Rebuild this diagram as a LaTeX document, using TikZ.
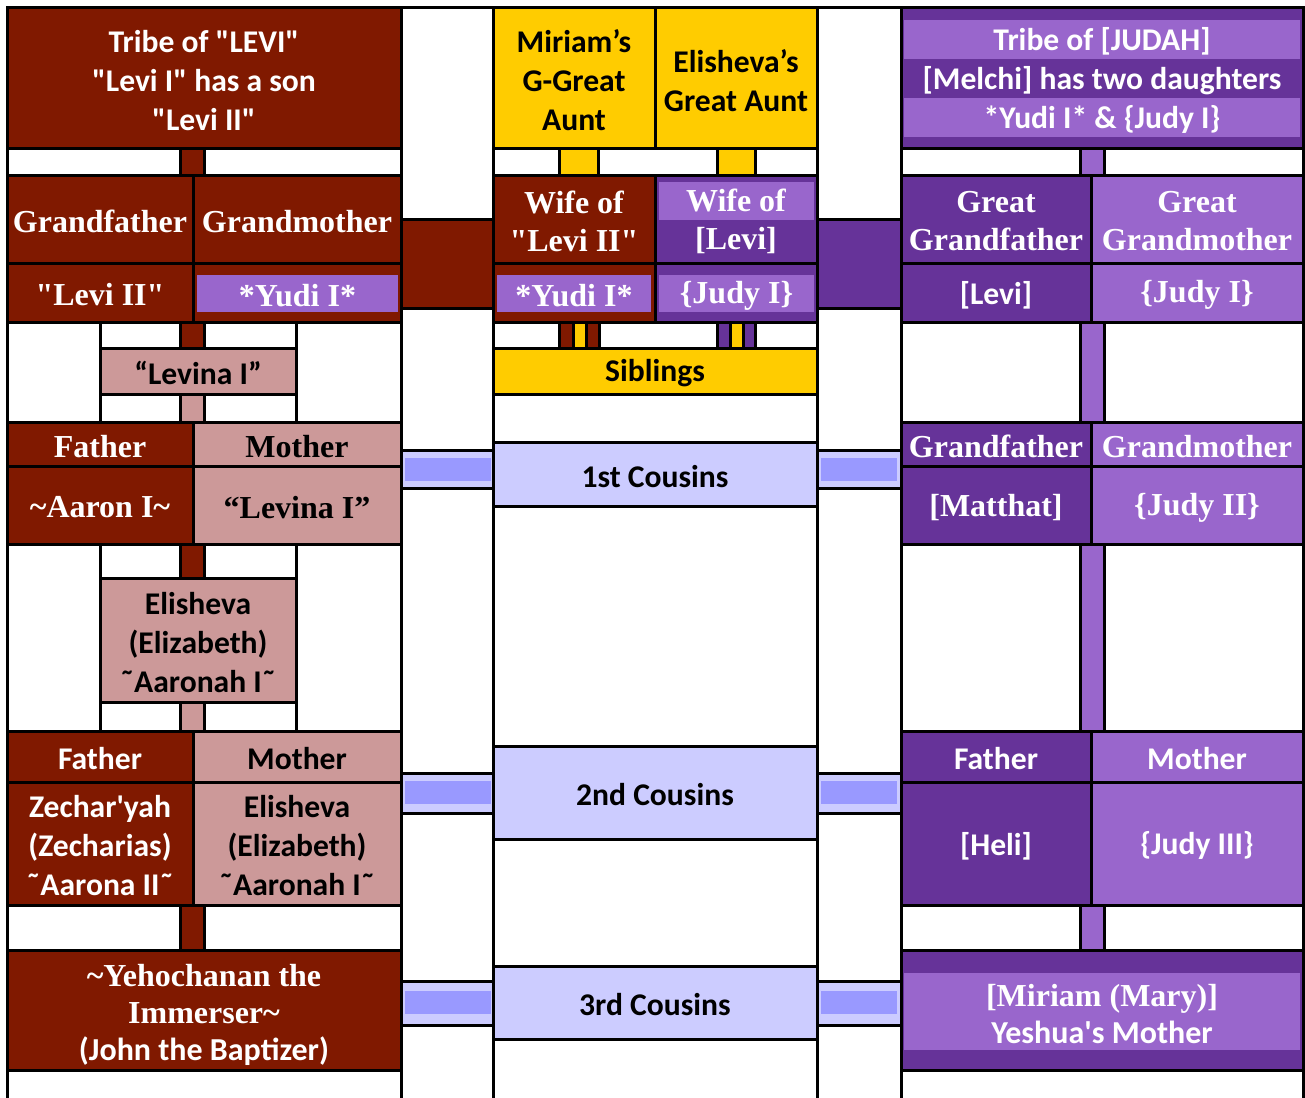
\documentclass[tikz,border=0pt]{standalone}
\usepackage{fontspec}
\setmainfont{Liberation Serif}[Ligatures=TeXOff]
\newfontfamily\calib{Carlito}[Ligatures=TeXOff]
\usetikzlibrary{fit}
\definecolor{dred}{RGB}{128,25,0}
\definecolor{pinkc}{RGB}{204,153,153}
\definecolor{yel}{RGB}{255,204,0}
\definecolor{dpur}{RGB}{102,51,153}
\definecolor{lpur}{RGB}{153,102,204}
\definecolor{lav}{RGB}{204,204,255}
\definecolor{lavd}{RGB}{153,153,255}
\newcommand\mySN{\calib\bfseries}
\newcommand\mySR{\rmfamily\bfseries}
\newcommand\mybx[8]{\node[#6, fit={(#2,#3)(#4,#5)}] (#1) {};
  \node[txt,#7] (#1t) at (#1.center) {#8};}
\tikzset{
  cell/.style={draw=black, line width=1.5pt, inner sep=0pt},
  wc/.style={cell, fill=white},
  dr/.style={cell, fill=dred},
  pk/.style={cell, fill=pinkc},
  ye/.style={cell, fill=yel},
  dp/.style={cell, fill=dpur},
  lp/.style={cell, fill=lpur},
  lv/.style={cell, fill=lav},
  band/.style={draw=none, fill=lpur, inner sep=0pt},
  bandv/.style={draw=none, fill=lavd, inner sep=0pt},
  txt/.style={inner sep=0pt, align=center, yshift=-1.2pt},
  sn/.style={font=\fontsize{15.8}{19.5}\selectfont\mySN},
  sr/.style={font=\fontsize{16}{19}\selectfont\mySR},
  snw/.style={sn, text=white}, snb/.style={sn, text=black},
  srw/.style={sr, text=white}, srb/.style={sr, text=black},
  mix/.style={font=\fontsize{16}{18.5}\selectfont, text=white},
}
\begin{document}
\begin{tikzpicture}[x=0.5pt,y=-0.5pt]
\useasboundingbox (0,0) rectangle (1305,1097);
\clip (0,0) rectangle (1305,1097);
% ---------------- left section ----------------
\mybx{lhead}{7}{8}{401}{148}{dr}{snw}{Tribe of "LEVI"\\"Levi I" has a son\\"Levi II"}
\mybx{lw1}{7}{148}{180}{175}{wc}{}{}
\mybx{lb1}{180}{148}{204}{175}{dr}{}{}
\mybx{lw2}{204}{148}{401}{175}{wc}{}{}
\mybx{lgf}{7}{175}{193}{263}{dr}{srw}{Grandfather}
\mybx{lgm}{193}{175}{401}{263}{dr}{srw}{Grandmother}
\mybx{llevi}{7}{263}{193}{322}{dr}{srw}{"Levi II"}
\mybx{lyudic}{193}{263}{401}{322}{dr}{}{}
\mybx{lyudi}{197}{275}{398}{312}{band}{srw}{*Yudi I*}
\mybx{lw3}{7}{322}{100}{422}{wc}{}{}
\mybx{lw4}{296}{322}{401}{422}{wc}{}{}
\mybx{lw5}{100}{322}{180}{348}{wc}{}{}
\mybx{lb2}{180}{322}{204}{348}{dr}{}{}
\mybx{lw6}{204}{322}{296}{348}{wc}{}{}
\mybx{lvina}{100}{348}{296}{394}{pk}{snb}{“Levina I”}
\mybx{lw7}{100}{394}{180}{422}{wc}{}{}
\mybx{lb3}{180}{394}{204}{422}{pk}{}{}
\mybx{lw8}{204}{394}{296}{422}{wc}{}{}
\mybx{lfa}{7}{422}{193}{466}{dr}{srw}{Father}
\mybx{lmo}{193}{422}{401}{466}{pk}{srb}{Mother}
\mybx{laaron}{7}{466}{193}{544}{dr}{srw}{\textasciitilde Aaron I\textasciitilde}
\mybx{llev2}{193}{466}{401}{544}{pk}{srb}{“Levina I”}
\mybx{lw9}{7}{544}{100}{731}{wc}{}{}
\mybx{lw10}{296}{544}{401}{731}{wc}{}{}
\mybx{lw11}{100}{544}{180}{578}{wc}{}{}
\mybx{lb4}{180}{544}{204}{578}{dr}{}{}
\mybx{lw12}{204}{544}{296}{578}{wc}{}{}
\mybx{lelis}{100}{578}{296}{702}{pk}{snb}{Elisheva\\(Elizabeth)\\˜Aaronah I˜}
\mybx{lw13}{100}{702}{180}{731}{wc}{}{}
\mybx{lb5}{180}{702}{204}{731}{pk}{}{}
\mybx{lw14}{204}{702}{296}{731}{wc}{}{}
\mybx{lfa2}{7}{731}{193}{782}{dr}{snw}{Father}
\mybx{lmo2}{193}{731}{401}{782}{pk}{snb}{Mother}
\mybx{lzech}{7}{782}{193}{905}{dr}{snw}{Zechar'yah\\(Zecharias)\\˜Aarona II˜}
\mybx{lelis2}{193}{782}{401}{905}{pk}{snb}{Elisheva\\(Elizabeth)\\˜Aaronah I˜}
\mybx{lw15}{7}{905}{180}{950}{wc}{}{}
\mybx{lb6}{180}{905}{204}{950}{dr}{}{}
\mybx{lw16}{204}{905}{401}{950}{wc}{}{}
\mybx{lyeho}{7}{950}{401}{1070}{dr}{mix,yshift=-1pt}{{\mySR\textasciitilde Yehochanan the}\\{\mySR Immerser\textasciitilde}\\{\mySN(John the Baptizer)}}
\mybx{lw17}{7}{1070}{401}{1110}{wc}{}{}
% ---------------- left narrow column ----------------
\mybx{nlw1}{401}{8}{493}{219}{wc}{}{}
\mybx{nlr}{401}{219}{493}{308}{dr}{}{}
\mybx{nlw2}{401}{308}{493}{450}{wc}{}{}
\mybx{nlc1}{401}{450}{493}{488}{lv}{}{}
\mybx{nlc1i}{405}{458}{491}{481}{bandv}{}{}
\mybx{nlw3}{401}{488}{493}{773}{wc}{}{}
\mybx{nlc2}{401}{773}{493}{813}{lv}{}{}
\mybx{nlc2i}{405}{781}{491}{804}{bandv}{}{}
\mybx{nlw4}{401}{813}{493}{981}{wc}{}{}
\mybx{nlc3}{401}{981}{493}{1025}{lv}{}{}
\mybx{nlc3i}{405}{991}{491}{1014}{bandv}{}{}
\mybx{nlw5}{401}{1025}{493}{1110}{wc}{}{}
% ---------------- right narrow column ----------------
\mybx{nrw1}{817}{8}{901}{219}{wc}{}{}
\mybx{nrp}{817}{219}{901}{308}{dp}{}{}
\mybx{nrw2}{817}{308}{901}{450}{wc}{}{}
\mybx{nrc1}{817}{450}{901}{488}{lv}{}{}
\mybx{nrc1i}{821}{458}{897}{481}{bandv}{}{}
\mybx{nrw3}{817}{488}{901}{773}{wc}{}{}
\mybx{nrc2}{817}{773}{901}{813}{lv}{}{}
\mybx{nrc2i}{821}{781}{897}{804}{bandv}{}{}
\mybx{nrw4}{817}{813}{901}{981}{wc}{}{}
\mybx{nrc3}{817}{981}{901}{1025}{lv}{}{}
\mybx{nrc3i}{821}{991}{897}{1014}{bandv}{}{}
\mybx{nrw5}{817}{1025}{901}{1110}{wc}{}{}
% ---------------- middle section ----------------
\mybx{mmir}{493}{8}{655}{148}{ye}{snb}{Miriam’s\\G-Great\\Aunt}
\mybx{meli}{655}{8}{817}{148}{ye}{snb}{Elisheva’s\\Great Aunt}
\mybx{mw1}{493}{148}{559}{175}{wc}{}{}
\mybx{my1}{559}{148}{598}{175}{ye}{}{}
\mybx{mw2}{598}{148}{717}{175}{wc}{}{}
\mybx{my2}{717}{148}{755}{175}{ye}{}{}
\mybx{mw3}{755}{148}{817}{175}{wc}{}{}
\mybx{mwl}{493}{175}{655}{263}{dr}{srw}{Wife of\\"Levi II"}
\mybx{mwj}{655}{175}{817}{263}{dp}{}{}
\mybx{mwjb}{659}{182}{814}{220}{band}{}{}
\node[txt,srw] (mwjt) at (mwj.center) {Wife of\\{}[Levi]};
\mybx{myc}{493}{263}{655}{322}{dr}{}{}
\mybx{myb}{497}{275}{651}{312}{band}{srw}{*Yudi I*}
\mybx{mjc}{655}{263}{817}{322}{dp}{}{}
\mybx{mjb}{659}{275}{814}{312}{band}{srw}{\{Judy I\}}
\mybx{mw4}{493}{322}{559}{348}{wc}{}{}
\mybx{mr1}{559}{322}{573}{348}{dr}{}{}
\mybx{my3}{573}{322}{586}{348}{ye}{}{}
\mybx{mr2}{586}{322}{599}{348}{dr}{}{}
\mybx{mw5}{599}{322}{717}{348}{wc}{}{}
\mybx{mp1}{717}{322}{730}{348}{dp}{}{}
\mybx{my4}{730}{322}{743}{348}{ye}{}{}
\mybx{mp2}{743}{322}{755}{348}{dp}{}{}
\mybx{mw6}{755}{322}{817}{348}{wc}{}{}
\mybx{msib}{493}{348}{817}{394}{ye}{snb}{Siblings}
\mybx{mw7}{493}{394}{817}{442}{wc}{}{}
\mybx{mc1}{493}{442}{817}{506}{lv}{snb}{1st Cousins}
\mybx{mw8}{493}{506}{817}{746}{wc}{}{}
\mybx{mc2}{493}{746}{817}{839}{lv}{snb}{2nd Cousins}
\mybx{mw9}{493}{839}{817}{966}{wc}{}{}
\mybx{mc3}{493}{966}{817}{1039}{lv}{snb}{3rd Cousins}
\mybx{mw10}{493}{1039}{817}{1110}{wc}{}{}
% ---------------- right section ----------------
\mybx{rhead}{901}{8}{1303}{148}{dp}{}{}
\mybx{rb1}{904}{20}{1300}{59}{band}{}{}
\mybx{rb2}{904}{98}{1300}{137}{band}{}{}
\node[txt,snw] (rheadt) at (rhead.center) {Tribe of [JUDAH]\\{}[Melchi] has two daughters\\{}*Yudi I* \& \{Judy I\}};
\mybx{rw1}{901}{148}{1080}{175}{wc}{}{}
\mybx{rbar1}{1080}{148}{1104}{175}{lp}{}{}
\mybx{rw2}{1104}{148}{1303}{175}{wc}{}{}
\mybx{rggf}{901}{175}{1091}{263}{dp}{srw}{Great\\Grandfather}
\mybx{rggm}{1091}{175}{1303}{263}{lp}{srw}{Great\\Grandmother}
\mybx{rlevi}{901}{263}{1091}{322}{dp}{snw}{[Levi]}
\mybx{rjudy}{1091}{263}{1303}{322}{lp}{srw}{\{Judy I\}}
\mybx{rw3}{901}{322}{1080}{422}{wc}{}{}
\mybx{rbar2}{1080}{322}{1104}{422}{lp}{}{}
\mybx{rw4}{1104}{322}{1303}{422}{wc}{}{}
\mybx{rgf}{901}{422}{1091}{466}{dp}{srw}{Grandfather}
\mybx{rgm}{1091}{422}{1303}{466}{lp}{srw}{Grandmother}
\mybx{rmat}{901}{466}{1091}{544}{dp}{srw}{[Matthat]}
\mybx{rjud2}{1091}{466}{1303}{544}{lp}{srw}{\{Judy II\}}
\mybx{rw5}{901}{544}{1080}{731}{wc}{}{}
\mybx{rbar3}{1080}{544}{1104}{731}{lp}{}{}
\mybx{rw6}{1104}{544}{1303}{731}{wc}{}{}
\mybx{rfa}{901}{731}{1091}{782}{dp}{snw}{Father}
\mybx{rmo}{1091}{731}{1303}{782}{lp}{snw}{Mother}
\mybx{rheli}{901}{782}{1091}{905}{dp}{snw}{[Heli]}
\mybx{rjud3}{1091}{782}{1303}{905}{lp}{snw}{\{Judy III\}}
\mybx{rw7}{901}{905}{1080}{950}{wc}{}{}
\mybx{rbar4}{1080}{905}{1104}{950}{lp}{}{}
\mybx{rw8}{1104}{905}{1303}{950}{wc}{}{}
\mybx{rmir}{901}{950}{1303}{1070}{dp}{}{}
\mybx{rmirb}{904}{973}{1300}{1050}{band}{}{}
\node[txt,mix] (rmirt) at (rmirb.center) {{\mySR[Miriam (Mary)]}\\{\mySN Yeshua's Mother}};
\mybx{rw9}{901}{1070}{1303}{1110}{wc}{}{}
\end{tikzpicture}
\end{document}
